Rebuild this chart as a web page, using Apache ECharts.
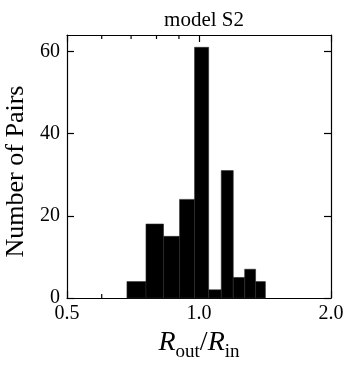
<!DOCTYPE html>
<html>
<head>
<meta charset="utf-8">
<script src="https://cdn.jsdelivr.net/npm/echarts@6/dist/echarts.min.js"></script>
<style>
  html, body { margin: 0; padding: 0; background: #fff; }
  #chart { width: 355px; height: 366px; }
</style>
</head>
<body>
<div id="chart"></div>
<script>
// histogram bins (linear edges, shown on a log2 axis)
var binLeft  = [0.685, 0.757, 0.830, 0.903, 0.977, 1.052, 1.124, 1.197, 1.271, 1.346]
var binRight = [0.757, 0.830, 0.903, 0.977, 1.052, 1.124, 1.197, 1.271, 1.346, 1.417]
var counts   = [4, 18, 15, 24, 61, 2, 31, 5, 7, 4]

var xMajorTicks = [0.5, 1.0, 2.0]
var xMinorTicks = [0.6, 0.7, 0.8, 0.9]
var yTicks = [0, 20, 40, 60]

var font = '"Liberation Serif", "DejaVu Serif", serif'

var barData = counts.map(function (c, i) {
  return [binLeft[i], binRight[i], c]
})

var chart = echarts.init(document.getElementById('chart'))

function xAxisCfg(pos, showLabel) {
  return {
    type: 'log',
    logBase: 2,
    position: pos,
    min: 0.5,
    max: 2,
    axisLine: { show: true, onZero: false, lineStyle: { color: '#000', width: 1.2 } },
    axisTick: {
      show: true, inside: true, length: 7, customValues: xMajorTicks,
      lineStyle: { color: '#000', width: 1.2 }
    },
    axisLabel: {
      show: showLabel, customValues: xMajorTicks, margin: 6,
      color: '#000', fontSize: 20, fontFamily: font,
      formatter: function (v) { return Number(v).toFixed(1) }
    },
    splitLine: { show: false },
    minorTick: { show: false }
  }
}

function yAxisCfg(pos, showLabel) {
  return {
    type: 'value',
    position: pos,
    min: 0,
    max: 64,
    axisLine: { show: true, onZero: false, lineStyle: { color: '#000', width: 1.2 } },
    axisTick: {
      show: true, inside: true, length: 7, customValues: yTicks,
      lineStyle: { color: '#000', width: 1.2 }
    },
    axisLabel: {
      show: showLabel, customValues: yTicks, margin: 7,
      color: '#000', fontSize: 20, fontFamily: font
    },
    splitLine: { show: false }
  }
}

var xBottom = xAxisCfg('bottom', true)
xBottom.name = '{i|R}{s|out}{n|/}{i|R}{s|in}'
xBottom.nameLocation = 'middle'
xBottom.nameGap = 31
xBottom.nameTextStyle = {
  rich: {
    i: { fontFamily: font, fontStyle: 'italic', fontSize: 28, color: '#000', verticalAlign: 'bottom' },
    n: { fontFamily: font, fontSize: 28, color: '#000', verticalAlign: 'bottom' },
    s: { fontFamily: font, fontSize: 19, color: '#000', verticalAlign: 'bottom', padding: [0, 0, -5, 0] }
  }
}

var yLeft = yAxisCfg('left', true)
yLeft.name = 'Number of Pairs'
yLeft.nameLocation = 'middle'
yLeft.nameGap = 29
yLeft.nameTextStyle = { fontFamily: font, fontSize: 26, color: '#000', padding: [0, 10, 0, 0] }

var option = {
  animation: false,
  title: {
    text: 'model S2',
    left: 199,
    textAlign: 'center',
    top: 5,
    textStyle: { fontFamily: font, fontSize: 21, fontWeight: 'normal', color: '#000' }
  },
  grid: { left: 67, right: 24, top: 35, bottom: 68, outerBoundsMode: 'none', containLabel: false },
  xAxis: [xBottom, xAxisCfg('top', false)],
  yAxis: [yLeft, yAxisCfg('right', false)],
  series: [
    {
      type: 'custom',
      xAxisIndex: 0,
      yAxisIndex: 0,
      data: barData,
      encode: { x: [0, 1], y: 2 },
      renderItem: function (params, api) {
        var p0 = api.coord([api.value(0), api.value(2)])
        var p1 = api.coord([api.value(1), 0])
        return {
          type: 'rect',
          shape: { x: p0[0], y: p0[1], width: p1[0] - p0[0], height: p1[1] - p0[1] },
          style: { fill: '#000', stroke: '#2a2a2a', lineWidth: 0.6 }
        }
      }
    },
    {
      // minor ticks on top and bottom
      type: 'custom',
      xAxisIndex: 0,
      yAxisIndex: 0,
      data: xMinorTicks.map(function (v) { return [v] }),
      encode: { x: 0 },
      z: 1,
      renderItem: function (params, api) {
        var cs = params.coordSys
        var x = api.coord([api.value(0), 0])[0]
        return {
          type: 'group',
          children: [
            { type: 'line', shape: { x1: x, y1: cs.y, x2: x, y2: cs.y + 4 }, style: { stroke: '#000', lineWidth: 1.2 } },
            { type: 'line', shape: { x1: x, y1: cs.y + cs.height, x2: x, y2: cs.y + cs.height - 4 }, style: { stroke: '#000', lineWidth: 1.2 } }
          ]
        }
      }
    }
  ]
}

chart.setOption(option)
</script>
</body>
</html>
